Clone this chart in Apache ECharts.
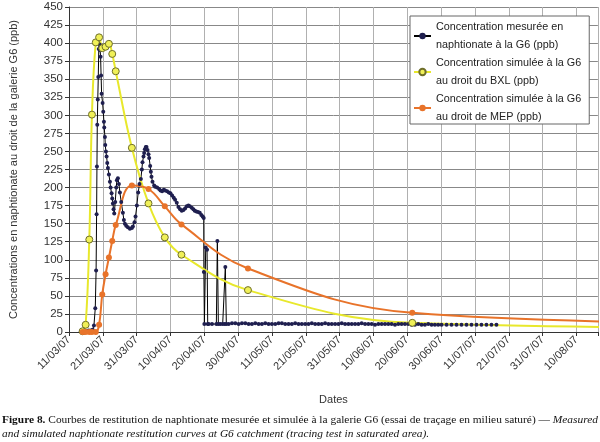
<!DOCTYPE html>
<html>
<head>
<meta charset="utf-8">
<script src="https://cdn.jsdelivr.net/npm/echarts@6/dist/echarts.min.js"></script>
<style>
html, body { margin: 0; padding: 0; background: #fff; }
#chart { width: 600px; height: 442px; }
</style>
</head>
<body>
<div id="chart"></div>
<script>
// axe X : jours depuis le 11/03/07
const tickStep = 10.17
const tickLabels = ['11/03/07', '21/03/07', '31/03/07', '10/04/07', '20/04/07', '30/04/07', '11/05/07', '21/05/07',
  '31/05/07', '10/06/07', '20/06/07', '30/06/07', '11/07/07', '21/07/07', '31/07/07', '10/08/07']

// concentration mesurée (jour, ppb)
const measured = [
  [3.6, 1], [4.1, 0], [4.7, 1], [5.3, 1], [5.9, 2], [6.5, 2], [7.1, 3], [7.5, 9], [7.9, 33], [8.15, 85],
  [8.3, 163], [8.4, 229], [8.5, 287], [8.65, 322], [8.8, 353], [8.95, 392], [9.05, 406], [9.2, 398], [9.35, 390],
  [9.5, 381], [9.65, 355], [9.8, 330], [10.1, 317], [10.3, 305], [10.5, 291], [10.6, 283], [10.8, 270], [10.9, 259],
  [11.1, 250], [11.3, 243], [11.5, 234], [11.7, 227], [12.0, 218], [12.3, 208], [12.5, 200], [12.8, 192], [13.0, 185],
  [13.2, 178], [13.4, 170], [13.6, 164], [13.9, 180], [14.2, 200], [14.4, 210], [14.7, 213], [15.0, 205], [15.3, 193],
  [15.7, 180], [16.2, 165], [16.5, 155], [16.8, 150], [17.2, 147], [17.7, 145], [18.3, 143], [18.9, 144], [19.2, 146],
  [19.7, 152], [20.0, 160], [20.4, 175], [20.8, 193], [21.2, 205], [21.6, 212], [21.9, 225], [22.1, 235], [22.4, 243],
  [22.6, 248], [22.8, 253], [23.1, 256], [23.3, 256], [23.6, 252], [23.9, 246], [24.1, 241], [24.4, 230], [24.6, 222],
  [24.8, 215], [25.1, 208], [25.6, 203], [25.9, 201], [26.5, 200], [27.1, 198], [27.5, 196], [28.0, 195], [28.5, 197],
  [28.9, 196], [29.5, 195], [30.0, 193], [30.5, 192], [31.0, 189], [31.5, 186], [31.9, 183], [32.4, 179], [32.9, 173],
  [33.4, 170], [33.9, 168], [34.4, 169], [34.9, 171], [35.4, 174], [35.9, 175], [36.3, 174], [36.9, 172], [37.4, 170],
  [37.8, 168], [38.3, 167], [38.8, 166], [39.3, 165], [39.8, 162], [40.2, 160], [40.5, 158], [40.55, 83], [40.7, 11],
  [41.1, 117], [41.5, 114], [41.7, 11],
  [42, 11], [43, 11], [44.3, 11], [44.6, 126], [44.9, 11], [45.5, 11], [46.2, 11], [46.8, 11], [47.0, 90], [47.3, 11],
  [48, 11], [49, 12], [50, 12], [51, 11], [52, 12], [53, 12], [54, 11], [55, 11], [56, 12], [57, 11], [58, 11],
  [59, 12], [60, 11], [61, 11], [62, 11], [63, 12], [64, 12], [65, 11], [66, 11], [67, 11], [68, 12], [69, 11],
  [70, 11], [71, 11], [72, 11], [73, 12], [74, 11], [75, 11], [76, 11], [77, 12], [78, 11], [79, 11], [80, 11],
  [81, 11], [82, 12], [83, 11], [84, 11], [85, 11], [86, 11], [87, 11], [88, 12], [89, 11], [90, 11], [91, 11],
  [92, 10], [93, 11], [94, 11], [95, 11], [96, 11], [97, 11], [98, 10], [99, 11], [100, 11], [101, 11], [102, 11],
  [103, 10], [104, 10], [105, 11], [106, 10], [107, 10], [108, 11], [109, 10], [110, 10], [111, 10], [112, 10],
  [113.5, 10], [115, 10], [116.5, 10], [118, 10], [119.5, 10], [121, 10], [122.5, 10], [124, 10], [125.5, 10],
  [127, 10], [128.5, 10]
]

// simulation au droit du BXL
const simBXL = [
  [4.1, 1], [5.0, 10], [6.1, 128], [6.9, 301], [8.05, 401], [9.05, 408], [10.0, 393], [11.0, 395], [12.0, 399],
  [13.0, 385], [14.05, 361], [18.9, 255], [23.9, 178], [28.8, 131], [33.8, 107], [53.8, 58], [103.2, 12.7], [203, 6]
]

// simulation au droit de MEP
const simMEP = [
  [4.1, 0], [5.0, 0], [6.1, 0], [6.9, 0], [8.05, 0], [9.05, 10], [10.0, 52], [11.0, 80], [12.0, 103], [13.0, 126],
  [14.05, 148], [18.9, 203], [23.9, 198], [28.8, 174], [33.8, 149], [53.8, 88], [103.2, 26.5], [203, 12]
]

const FONT = '"Liberation Sans", Arial, sans-serif'
const SERIF = '"Liberation Serif", "Times New Roman", serif'

let chart = echarts.init(document.getElementById('chart'))

chart.setOption({
  animation: false,
  textStyle: { fontFamily: FONT },
  grid: { left: 60, top: 7, right: 0, bottom: 110 },
  legend: {
    orient: 'vertical',
    left: 410,
    top: 16,
    backgroundColor: '#fff',
    borderColor: '#666',
    borderWidth: 1,
    padding: [-7, 8, -11, 3],
    itemWidth: 17,
    itemHeight: 8,
    itemGap: -18,
    textStyle: { fontSize: 10.8, color: '#222', lineHeight: 18, padding: [18, 0, 0, 0] }
  },
  xAxis: {
    type: 'value',
    min: 0,
    max: 159,
    interval: tickStep,
    name: 'Dates',
    nameLocation: 'middle',
    nameGap: 62,
    nameTextStyle: { fontSize: 11, color: '#333' },
    axisLine: { lineStyle: { color: '#333' } },
    axisTick: { show: true, length: 4, lineStyle: { color: '#333' } },
    axisLabel: {
      rotate: 45,
      fontSize: 11,
      color: '#333',
      margin: 6,
      formatter: v => {
        let i = Math.round(v / tickStep)
        return Math.abs(i * tickStep - v) < 0.01 && tickLabels[i] ? tickLabels[i] : ''
      }
    },
    splitLine: { show: true, lineStyle: { color: '#b0b0b0' } }
  },
  yAxis: {
    type: 'value',
    min: 0,
    max: 450,
    interval: 25,
    name: 'Concentrations en naphtionate au droit de la galerie G6 (ppb)',
    nameLocation: 'middle',
    nameGap: 50,
    nameTextStyle: { fontSize: 11, color: '#333' },
    axisLine: { show: true, lineStyle: { color: '#333' } },
    axisTick: { show: true, length: 4, lineStyle: { color: '#333' } },
    axisLabel: { fontSize: 11.5, color: '#333', margin: 6 },
    splitLine: { lineStyle: { color: '#888' } }
  },
  series: [
    {
      name: 'Concentration mesurée en\nnaphtionate à la G6 (ppb)',
      type: 'line',
      data: measured,
      symbol: 'circle',
      symbolSize: 4,
      showAllSymbol: true,
      lineStyle: { color: '#000', width: 1 },
      itemStyle: { color: '#1f1f4f' }
    },
    {
      name: 'Concentration simulée à la G6\nau droit du BXL (ppb)',
      type: 'line',
      data: simBXL,
      smooth: 0.4,
      symbol: 'circle',
      symbolSize: 7,
      lineStyle: { color: '#e8e82c', width: 2 },
      itemStyle: { color: '#f0f058', borderColor: '#6e6e2a', borderWidth: 1 }
    },
    {
      name: 'Concentration simulée à la G6\nau droit de MEP (ppb)',
      type: 'line',
      data: simMEP,
      smooth: 0.4,
      symbol: 'circle',
      symbolSize: 6,
      lineStyle: { color: '#e8732a', width: 2 },
      itemStyle: { color: '#e8732a' }
    }
  ],
  graphic: [
    {
      type: 'text',
      left: 2,
      top: 413,
      style: {
        text: '{b|Figure 8.}{r| Courbes de restitution de naphtionate mesurée et simulée à la galerie G6 (essai de traçage en milieu saturé) — }{i|Measured}\n{i|and simulated naphtionate restitution curves at G6 catchment (tracing test in saturated area).}',
        fill: '#111',
        font: '11.4px ' + SERIF,
        lineHeight: 14,
        rich: {
          b: { fontFamily: SERIF, fontSize: 11.4, fontWeight: 'bold', lineHeight: 14 },
          r: { fontFamily: SERIF, fontSize: 11.4, lineHeight: 14 },
          i: { fontFamily: SERIF, fontSize: 11.4, fontStyle: 'italic', lineHeight: 14 }
        }
      }
    }
  ]
})
</script>
</body>
</html>
